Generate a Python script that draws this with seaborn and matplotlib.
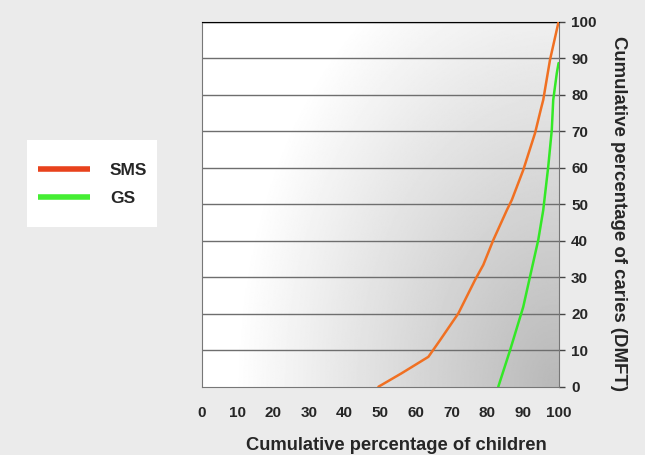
import numpy as np
import matplotlib
matplotlib.use("Agg")
import matplotlib.pyplot as plt
from matplotlib.lines import Line2D
from matplotlib.patches import Rectangle
import seaborn as sns
import pandas as pd

# cumulative curves
sms_children = [49.5, 56, 63.5, 66.8, 71.9, 76.6, 78.9, 81.7, 85.5, 86.9, 90.1, 93.4, 95.1, 95.7, 97.6, 100]
sms_caries = [0, 3.7, 8.2, 12.8, 20.1, 29.3, 33.4, 40.2, 48.4, 51.2, 59.4, 69.5, 76.3, 78.6, 89.6, 100]
gs_children = [83.1, 86.4, 90.1, 92.0, 94.3, 95.7, 97.1, 98.1, 98.5, 99.5, 100]
gs_caries = [0, 10, 21.9, 30.2, 40.2, 48.4, 60.3, 70.4, 78.6, 85.9, 88.7]
ticks = list(range(0, 101, 10))

df = pd.concat([
    pd.DataFrame({'children': sms_children, 'caries': sms_caries, 'group': 'SMS'}),
    pd.DataFrame({'children': gs_children, 'caries': gs_caries, 'group': 'GS'}),
])

sns.set_style("white")
plt.rcParams['font.family'] = ['Liberation Sans', 'DejaVu Sans']
plt.rcParams['font.weight'] = 'bold'

fig = plt.figure(figsize=(6.45, 4.55), dpi=100, facecolor='#ebebeb')
ax = fig.add_axes([0.313, 0.150, 0.553, 0.802])

# gradient background: white top-left, grey towards lower right
gx, gy = np.meshgrid(np.linspace(0, 1, 300), np.linspace(0, 1, 300))
r = np.sqrt(1.6 * (1 - gx) ** 2 + 0.8 * gy ** 2)
dark = 0.28 * np.clip(1 - r / 1.15, 0, 1)
ax.imshow(1 - dark, cmap='gray', vmin=0, vmax=1, extent=[0, 100, 0, 100],
          origin='lower', aspect='auto', zorder=0)

for t in ticks[1:]:
    ax.axhline(t, color='#000000' if t == 100 else '#6e6e6e', lw=1.0, zorder=1)

sns.lineplot(data=df, x='children', y='caries', hue='group', sort=False,
             palette={'SMS': '#f07022', 'GS': '#33e826'}, lw=1.8, ax=ax,
             legend=False, zorder=3)

ax.set_xlim(0, 100)
ax.set_ylim(0, 100)
ax.set_xticks(ticks)
ax.set_yticks(ticks)
ax.yaxis.tick_right()
ax.yaxis.set_label_position('right')
ax.tick_params(axis='both', direction='out', length=4, width=1, color='#444444',
               labelsize=11)
ax.tick_params(axis='x', pad=10)
ax.tick_params(axis='y', pad=5)
for lab in ax.get_xticklabels() + ax.get_yticklabels():
    lab.set_fontweight('bold')
for side in ['left', 'right', 'bottom']:
    ax.spines[side].set_color('#777777')
ax.spines['top'].set_color('#000000')

ax.set_xlabel('Cumulative percentage of children', fontsize=13.2, fontweight='bold',
              va='center')
ax.xaxis.set_label_coords(0.544, -0.162)
ax.set_ylabel('Cumulative percentage of caries (DMFT)', fontsize=13.4, fontweight='bold',
              rotation=-90, va='center')
ax.yaxis.set_label_coords(1.167, 0.475)

# legend box on the left
fig.patches.append(Rectangle((27 / 645, 1 - 227 / 455), 130 / 645, 87 / 455,
                             transform=fig.transFigure, facecolor='white',
                             edgecolor='none', zorder=0))
handles = [Line2D([], [], color='#e8421c', lw=4, solid_capstyle='butt'),
           Line2D([], [], color='#44ee33', lw=4, solid_capstyle='butt')]
fig.legend(handles, ['SMS', 'GS'], loc='center left', bbox_to_anchor=(38 / 645, 1 - 184.5 / 455),
           frameon=False, prop={'weight': 'bold', 'size': 12.5}, handlelength=3.0,
           handletextpad=1.15, labelspacing=0.78, borderaxespad=0, borderpad=0)

fig.savefig('out.png', dpi=100, facecolor=fig.get_facecolor())
